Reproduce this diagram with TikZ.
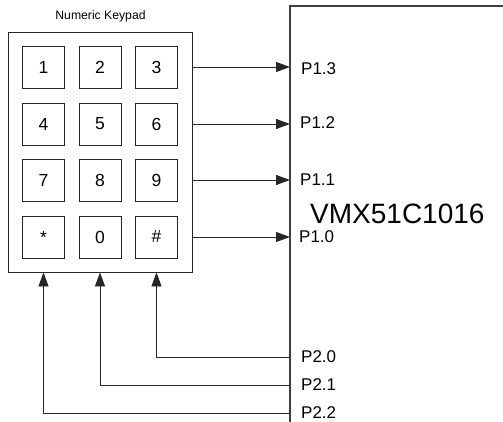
\documentclass[tikz,border=0pt]{standalone}
\usepackage{fontspec}
\setmainfont{Liberation Sans}
\usetikzlibrary{arrows.meta}
\tikzset{
  px/.style={x=1pt,y=-1pt},
  key/.style={draw=black!85,line width=0.9pt,minimum width=42pt,minimum height=42pt,inner sep=0pt,font=\fontsize{17.5}{20}\selectfont},
  pin/.style={anchor=west,inner sep=0pt,font=\fontsize{17}{20}\selectfont},
  wire/.style={draw=black!85,line width=0.9pt},
  arr/.style={wire,-{Triangle[length=14pt,width=10pt]}}
}
\begin{document}
\begin{tikzpicture}[px]
\useasboundingbox (0,0) rectangle (503,422);
\node[draw=black!85,line width=0.9pt,minimum width=184pt,minimum height=240pt,inner sep=0pt] (pad) at (100,152) {};
\node[font=\fontsize{12.2}{14}\selectfont,inner sep=0pt] (title) at (100.5,16) {Numeric Keypad};
\node[key] (k1) at (43.5,67) {1};
\node[key] (k2) at (100,67) {2};
\node[key] (k3) at (156.5,67) {3};
\node[key] (k4) at (43.5,124) {4};
\node[key] (k5) at (100,124) {5};
\node[key] (k6) at (156.5,124) {6};
\node[key] (k7) at (43.5,180) {7};
\node[key] (k8) at (100,180) {8};
\node[key] (k9) at (156.5,180) {9};
\node[key] (kstar) at (43.5,237) {*};
\node[key] (k0) at (100,237) {0};
\node[key] (khash) at (156.5,237) {\#};
\draw[draw=black!75,line width=1.1pt] (503,6) -- (290,6) -- (290,422);
\node[inner sep=0pt,anchor=west,font=\fontsize{28}{32}\selectfont] (mcu) at (310,214) {VMX51C1016};
\coordinate (a3) at (290,67);
\coordinate (a2) at (290,124);
\coordinate (a1) at (290,180);
\coordinate (a0) at (290,237);
\coordinate (b0) at (290,357);
\coordinate (b1) at (290,385);
\coordinate (b2) at (290,413);
\node[pin] (p13) at (301,69) {P1.3};
\node[pin] (p12) at (300,123) {P1.2};
\node[pin] (p11) at (300,180) {P1.1};
\node[pin] (p10) at (299,237) {P1.0};
\node[pin] (p20) at (301,357) {P2.0};
\node[pin] (p21) at (301,385) {P2.1};
\node[pin] (p22) at (301,413) {P2.2};
\draw[arr] (pad.east |- a3) -- (a3);
\draw[arr] (pad.east |- a2) -- (a2);
\draw[arr] (pad.east |- a1) -- (a1);
\draw[arr] (pad.east |- a0) -- (a0);
\draw[arr] (b0) -| (khash.center |- pad.south);
\draw[arr] (b1) -| (k0.center |- pad.south);
\draw[arr] (b2) -| (kstar.center |- pad.south);
\end{tikzpicture}
\end{document}
